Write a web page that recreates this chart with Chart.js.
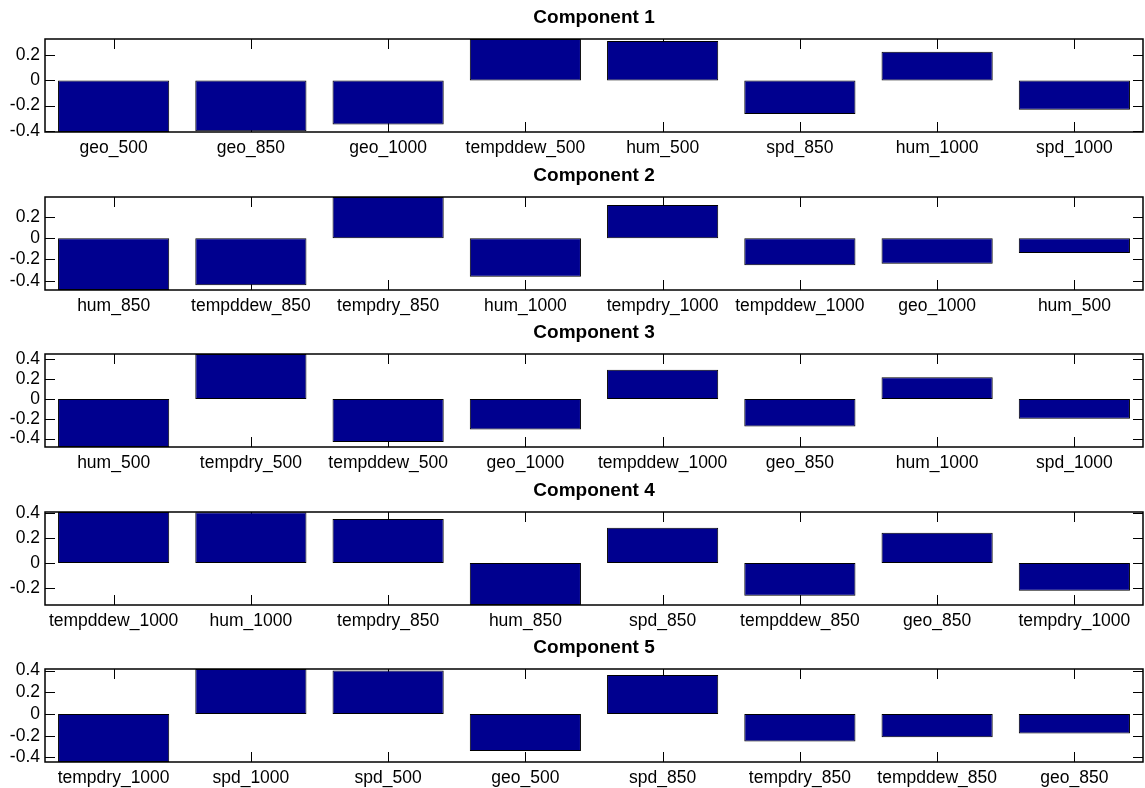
<!DOCTYPE html>
<html>
<head>
<meta charset="utf-8">
<script src="https://cdn.jsdelivr.net/npm/chart.js@4.4.0/dist/chart.umd.min.js"></script>
<style>
  body { margin: 0; background: #fff; }
  #wrap { position: relative; width: 1145px; height: 788px; overflow: hidden; }
  #wrap canvas { position: absolute; left: 0; }
</style>
</head>
<body>
<div id="wrap">
  <canvas id="c1" width="1145" height="158" style="top:0px"></canvas>
  <canvas id="c2" width="1145" height="158" style="top:158px"></canvas>
  <canvas id="c3" width="1145" height="158" style="top:315px"></canvas>
  <canvas id="c4" width="1145" height="158" style="top:473px"></canvas>
  <canvas id="c5" width="1145" height="158" style="top:630px"></canvas>
</div>
<script>
// --- data ---
const comp1Labels = ['geo_500', 'geo_850', 'geo_1000', 'tempddew_500', 'hum_500', 'spd_850', 'hum_1000', 'spd_1000'];
const comp1Values = [-0.41, -0.405, -0.35, 0.33, 0.314, -0.266, 0.229, -0.232];
const comp1Ticks = [-0.4, -0.2, 0, 0.2];

const comp2Labels = ['hum_850', 'tempddew_850', 'tempdry_850', 'hum_1000', 'tempdry_1000', 'tempddew_1000', 'geo_1000', 'hum_500'];
const comp2Values = [-0.487, -0.443, 0.388, -0.362, 0.313, -0.253, -0.24, -0.14];
const comp2Ticks = [-0.4, -0.2, 0, 0.2];

const comp3Labels = ['hum_500', 'tempdry_500', 'tempddew_500', 'geo_1000', 'tempddew_1000', 'geo_850', 'hum_1000', 'spd_1000'];
const comp3Values = [-0.485, 0.455, -0.434, -0.309, 0.295, -0.278, 0.22, -0.2];
const comp3Ticks = [-0.4, -0.2, 0, 0.2, 0.4];

const comp4Labels = ['tempddew_1000', 'hum_1000', 'tempdry_850', 'hum_850', 'spd_850', 'tempddew_850', 'geo_850', 'tempdry_1000'];
const comp4Values = [0.406, 0.404, 0.35, -0.333, 0.28, -0.26, 0.242, -0.22];
const comp4Ticks = [-0.2, 0, 0.2, 0.4];

const comp5Labels = ['tempdry_1000', 'spd_1000', 'spd_500', 'geo_500', 'spd_850', 'tempdry_850', 'tempddew_850', 'geo_850'];
const comp5Values = [-0.442, 0.414, 0.40, -0.34, 0.358, -0.253, -0.215, -0.18];
const comp5Ticks = [-0.4, -0.2, 0, 0.2, 0.4];

const FONT = "'Liberation Sans', Arial, Helvetica, sans-serif";
Chart.defaults.font.family = FONT;
Chart.defaults.color = '#000';

// matlab style axes: inward ticks on all four sides, black box on top
const matlabAxes = {
    id: 'matlabAxes',
    beforeDatasetsDraw(chart) {
        const { ctx, chartArea: a, scales: { x, y } } = chart;
        const len = 10;
        ctx.save();
        ctx.strokeStyle = '#000';
        ctx.lineWidth = 1;
        ctx.beginPath();
        x.ticks.forEach((t, i) => {
            const px = Math.round(x.getPixelForTick(i)) + 0.5;
            ctx.moveTo(px, a.top); ctx.lineTo(px, a.top + len);
            ctx.moveTo(px, a.bottom); ctx.lineTo(px, a.bottom - len);
        });
        y.ticks.forEach(t => {
            const py = Math.round(y.getPixelForValue(t.value)) + 0.5;
            ctx.moveTo(a.left, py); ctx.lineTo(a.left + len, py);
            ctx.moveTo(a.right, py); ctx.lineTo(a.right - len, py);
        });
        ctx.stroke();
        ctx.restore();
    },
    afterDatasetsDraw(chart) {
        const { ctx, chartArea: a } = chart;
        ctx.save();
        ctx.strokeStyle = '#000';
        ctx.lineWidth = 1.5;
        ctx.strokeRect(a.left, a.top, a.right - a.left, a.bottom - a.top);
        ctx.restore();
    }
};

function drawComponent(canvasId, title, labels, values, ticks) {
    return new Chart(document.getElementById(canvasId), {
        type: 'bar',
        data: {
            labels: labels,
            datasets: [{
                data: values,
                backgroundColor: '#00008f',
                borderColor: '#000',
                borderWidth: 1,
                borderSkipped: false,
                barPercentage: 0.81,
                categoryPercentage: 1.0
            }]
        },
        options: {
            responsive: false,
            animation: false,
            layout: { padding: { left: 0, right: 2, top: 0, bottom: 0 } },
            plugins: {
                legend: { display: false },
                tooltip: { enabled: false },
                title: {
                    display: true,
                    text: title,
                    fullSize: false,
                    font: { size: 19, weight: 'bold', family: FONT },
                    color: '#000',
                    padding: { top: 6, bottom: 10.2 }
                }
            },
            scales: {
                x: {
                    grid: { display: false, drawTicks: false },
                    border: { display: false },
                    ticks: { font: { size: 17.5 }, padding: 6, maxRotation: 0, autoSkip: false },
                    afterFit: s => { s.height = 26; }
                },
                y: {
                    min: Math.min(...values),
                    max: Math.max(...values),
                    grid: { display: false, drawTicks: false },
                    border: { display: false },
                    afterBuildTicks: s => { s.ticks = ticks.map(v => ({ value: v })); },
                    ticks: {
                        font: { size: 17.5 },
                        padding: 5,
                        autoSkip: false,
                        callback: v => String(Number(v.toFixed(1)))
                    },
                    afterFit: s => { s.width = 45; }
                }
            }
        },
        plugins: [matlabAxes]
    });
}

drawComponent('c1', 'Component 1', comp1Labels, comp1Values, comp1Ticks);
drawComponent('c2', 'Component 2', comp2Labels, comp2Values, comp2Ticks);
drawComponent('c3', 'Component 3', comp3Labels, comp3Values, comp3Ticks);
drawComponent('c4', 'Component 4', comp4Labels, comp4Values, comp4Ticks);
drawComponent('c5', 'Component 5', comp5Labels, comp5Values, comp5Ticks);
</script>
</body>
</html>
